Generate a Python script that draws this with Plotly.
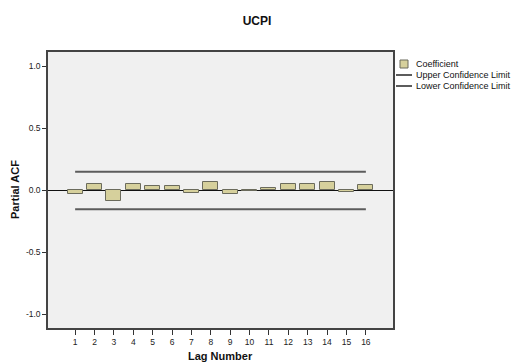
import plotly.graph_objects as go

# ---- data ----
lags = list(range(1, 17))
coefficient = [-0.030, 0.051, -0.083, 0.054, 0.035, 0.032, -0.024, 0.067,
               -0.030, -0.005, 0.019, 0.054, 0.051, 0.065, -0.010, 0.040]
upper_limit = [0.151] * 16
lower_limit = [-0.151] * 16
y_tick_vals = [-1.0, -0.5, 0.0, 0.5, 1.0]
y_tick_text = ["-1.0", "-0.5", "0.0", "0.5", "1.0"]
legend_names = ["Coefficient", "Upper Confidence Limit", "Lower Confidence Limit"]

FONT = "Liberation Sans, Arial, sans-serif"
W, H = 514, 362
L, R, T, B = 48, 121, 52, 34
PW, PH = W - L - R, H - T - B

BAR_FILL = "#d6d09c"
BAR_EDGE = "#6b6b5c"
LIM_COLOR = "#5c5c5c"

fig = go.Figure()
fig.add_trace(go.Bar(x=lags, y=coefficient, width=0.77, name=legend_names[0],
                     marker=dict(color=BAR_FILL, line=dict(color=BAR_EDGE, width=1)),
                     showlegend=False))
fig.add_trace(go.Scatter(x=lags, y=upper_limit, mode="lines", name=legend_names[1],
                         line=dict(color=LIM_COLOR, width=2), showlegend=False))
fig.add_trace(go.Scatter(x=lags, y=lower_limit, mode="lines", name=legend_names[2],
                         line=dict(color=LIM_COLOR, width=2), showlegend=False))


def px_x(px):
    return (px - L) / PW


def px_y(py):
    return (H - B - py) / PH


shapes = []
annotations = []
# manual legend (SPSS style)
leg_rows = [64, 75, 86]
shapes.append(dict(type="rect", xref="paper", yref="paper",
                   x0=px_x(400), x1=px_x(408), y0=px_y(leg_rows[0] + 4), y1=px_y(leg_rows[0] - 4),
                   fillcolor=BAR_FILL, line=dict(color=BAR_EDGE, width=1)))
for r in leg_rows[1:]:
    shapes.append(dict(type="line", xref="paper", yref="paper",
                       x0=px_x(396), x1=px_x(412), y0=px_y(r), y1=px_y(r),
                       line=dict(color=LIM_COLOR, width=2)))
for name, r in zip(legend_names, leg_rows):
    annotations.append(dict(text=name, xref="paper", yref="paper", x=px_x(414), y=px_y(r),
                            xanchor="left", yanchor="middle", showarrow=False,
                            font=dict(family=FONT, size=9, color="#111111")))

# axis titles
annotations.append(dict(text="<b>Partial ACF</b>", xref="paper", yref="paper", x=0, y=0.5,
                        xshift=-(L - 15), textangle=-90, xanchor="center", yanchor="middle",
                        showarrow=False, font=dict(family=FONT, size=11, color="#111111")))
annotations.append(dict(text="<b>Lag Number</b>", xref="paper", yref="paper", x=0.5, y=0,
                        yshift=-20, xanchor="center", yanchor="top",
                        showarrow=False, font=dict(family=FONT, size=11, color="#111111")))

fig.update_layout(
    width=W, height=H,
    margin=dict(l=L, r=R, t=T, b=B, pad=0),
    paper_bgcolor="white",
    plot_bgcolor="#f0f0f0",
    title=dict(text="<b>UCPI</b>", x=0.5, xref="container", xanchor="center",
               y=1 - 21 / H, yref="container", yanchor="middle",
               font=dict(family=FONT, size=12, color="#111111")),
    font=dict(family=FONT, size=8, color="#222222"),
    showlegend=False,
    bargap=0,
    shapes=shapes,
    annotations=annotations,
    xaxis=dict(range=[-0.4, 17.4], tickvals=lags, ticktext=[str(v) for v in lags],
               showgrid=False, zeroline=False, ticks="outside", ticklen=5, tickwidth=1,
               tickcolor="#333333", showline=True, linecolor="#444444", linewidth=1.5,
               mirror=True, tickfont=dict(family=FONT, size=8.5, color="#222222"),
               fixedrange=True),
    yaxis=dict(range=[-1.11, 1.117], tickvals=y_tick_vals, ticktext=y_tick_text,
               showgrid=False, zeroline=True, zerolinecolor="#111111", zerolinewidth=1,
               ticks="outside", ticklen=4, tickwidth=1, tickcolor="#333333",
               showline=True, linecolor="#444444", linewidth=1.5, mirror=True,
               tickfont=dict(family=FONT, size=8.5, color="#222222"), fixedrange=True),
)

fig.write_html("out.html")
